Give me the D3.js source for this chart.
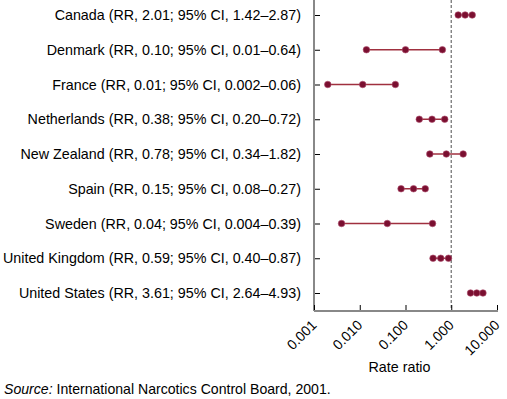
<!DOCTYPE html>
<html><head><meta charset="utf-8">
<script src="https://cdn.jsdelivr.net/npm/d3@7"></script>
<style>body{margin:0;background:#fff}svg{display:block;font-family:"Liberation Sans",Arial,Helvetica,sans-serif}</style>
</head><body><svg id="c" width="507" height="399"></svg>
<script>
const countries = ["Canada","Denmark","France","Netherlands","New Zealand","Spain","Sweden","United Kingdom","United States"];
const labels = [
 "Canada (RR, 2.01; 95% CI, 1.42\u20132.87)",
 "Denmark (RR, 0.10; 95% CI, 0.01\u20130.64)",
 "France (RR, 0.01; 95% CI, 0.002\u20130.06)",
 "Netherlands (RR, 0.38; 95% CI, 0.20\u20130.72)",
 "New Zealand (RR, 0.78; 95% CI, 0.34\u20131.82)",
 "Spain (RR, 0.15; 95% CI, 0.08\u20130.27)",
 "Sweden (RR, 0.04; 95% CI, 0.004\u20130.39)",
 "United Kingdom (RR, 0.59; 95% CI, 0.40\u20130.87)",
 "United States (RR, 3.61; 95% CI, 2.64\u20134.93)"];
const rr    = [2.01, 0.10, 0.0116, 0.38, 0.78, 0.15, 0.04, 0.59, 3.61];
const lower = [1.42, 0.014, 0.002, 0.20, 0.34, 0.08, 0.004, 0.40, 2.64];
const upper = [2.87, 0.64, 0.06, 0.72, 1.82, 0.27, 0.39, 0.87, 4.93];
const xTicks = [0.001, 0.01, 0.1, 1, 10];
const xTickLabels = ["0.001","0.010","0.100","1.000","10.000"];
const refValue = 1;

const svg = d3.select("#c");
const mLeft = 314, mRight = 497, mTop = 0, mBottom = 311;
const x = d3.scaleLog().domain([0.001, 10]).range([mLeft, mRight]);
const y = d3.scalePoint().domain(countries).range([15, 293]);

// reference line
svg.append("line").attr("x1", x(refValue)).attr("x2", x(refValue)).attr("y1", mTop).attr("y2", mBottom)
  .attr("stroke", "#777").attr("stroke-width", 1.3).attr("stroke-dasharray", "3,2");

// y axis
const yAxis = d3.axisRight(y).tickSize(6).tickFormat("");
const gy = svg.append("g").attr("transform", `translate(${mLeft},0)`).call(yAxis);
gy.select(".domain").remove();
gy.selectAll(".tick line").attr("stroke", "#000");
svg.append("line").attr("x1", mLeft).attr("x2", mLeft).attr("y1", mTop).attr("y2", mBottom)
  .attr("stroke", "#888").attr("stroke-width", 2);
svg.append("g").selectAll("text").data(countries).join("text")
  .attr("x", mLeft - 13).attr("y", d => y(d)).attr("dy", "0.36em")
  .attr("text-anchor", "end").attr("font-size", 14.3).attr("fill", "#000")
  .text((d, i) => labels[i]);

// x axis
const xAxis = d3.axisTop(x).tickValues(xTicks).tickSize(6).tickFormat("");
const gx = svg.append("g").attr("transform", `translate(0,${mBottom})`).call(xAxis);
gx.select(".domain").remove();
gx.selectAll(".tick line").attr("stroke", "#000");
svg.append("line").attr("x1", mLeft).attr("x2", mRight + 1).attr("y1", mBottom).attr("y2", mBottom)
  .attr("stroke", "#888").attr("stroke-width", 2);
svg.append("g").selectAll("text").data(xTicks).join("text")
  .attr("transform", d => `translate(${x(d) + 3.5},326) rotate(-45)`)
  .attr("text-anchor", "end").attr("font-size", 14).attr("fill", "#000")
  .text((d, i) => xTickLabels[i]);

svg.append("text").attr("x", 399.5).attr("y", 371.5).attr("text-anchor", "middle")
  .attr("font-size", 14.3).text("Rate ratio");

// CI lines and points
const g = svg.append("g");
countries.forEach((c, i) => {
  g.append("line").attr("x1", x(lower[i])).attr("x2", x(upper[i])).attr("y1", y(c)).attr("y2", y(c))
    .attr("stroke", "#a0303f").attr("stroke-width", 1.5);
  [lower[i], rr[i], upper[i]].forEach(v => {
    g.append("circle").attr("cx", x(v)).attr("cy", y(c)).attr("r", 3.3)
      .attr("fill", "#7a0f30").attr("stroke", "#b05070").attr("stroke-width", 0.6);
  });
});

const src = svg.append("text").attr("x", 4).attr("y", 393.5).attr("font-size", 14.1);
src.append("tspan").attr("font-style", "italic").text("Source:");
src.append("tspan").text(" International Narcotics Control Board, 2001.");
</script></body></html>
